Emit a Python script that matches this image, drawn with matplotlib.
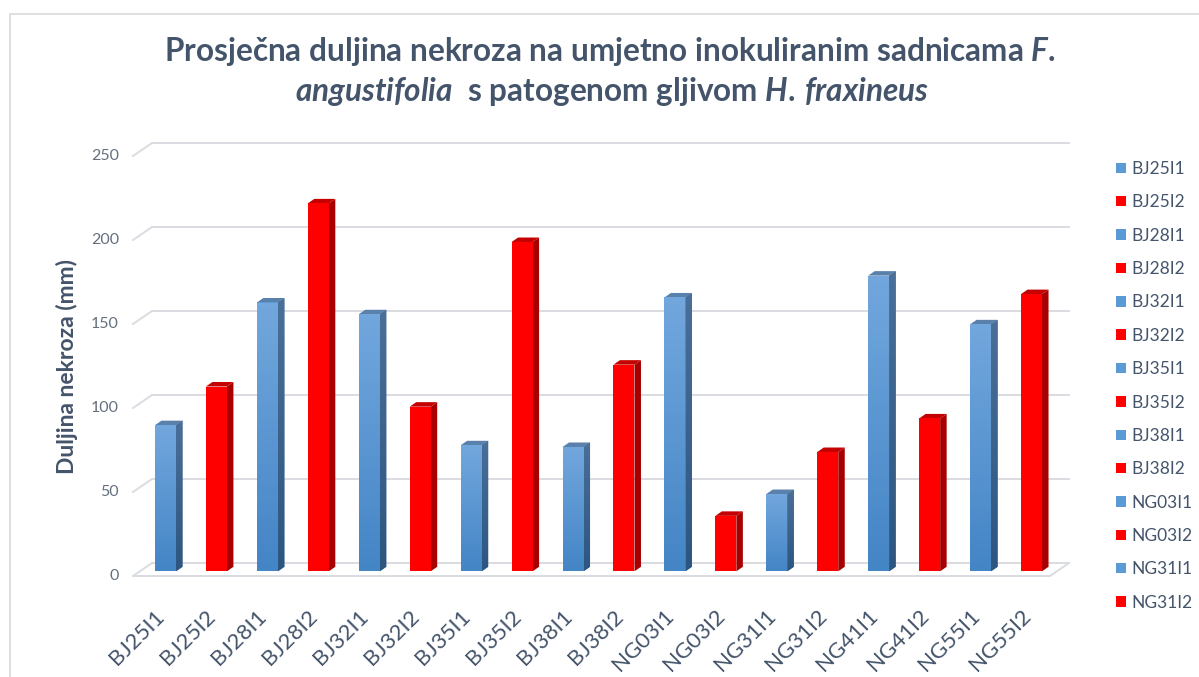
import numpy as np
import matplotlib.pyplot as plt
from matplotlib.patches import Polygon, Rectangle, Patch
from matplotlib.colors import LinearSegmentedColormap

plt.rcParams['font.family'] = ['Lato', 'DejaVu Sans']
plt.rcParams['mathtext.fontset'] = 'custom'
plt.rcParams['mathtext.rm'] = 'Lato:bold'
plt.rcParams['mathtext.it'] = 'Lato:italic:bold'

# prosjecna duljina nekroze po uzorku (mm)
samples = ['BJ25I1', 'BJ25I2', 'BJ28I1', 'BJ28I2', 'BJ32I1', 'BJ32I2',
           'BJ35I1', 'BJ35I2', 'BJ38I1', 'BJ38I2', 'NG03I1', 'NG03I2',
           'NG31I1', 'NG31I2', 'NG41I1', 'NG41I2', 'NG55I1', 'NG55I2']
necrosis_mm = [87, 110, 160, 219, 153, 98, 75, 196, 74, 123,
               163, 33, 46, 71, 176, 91, 147, 165]
y_ticks = [0, 50, 100, 150, 200, 250]
legend_count = 14   # only the first 14 entries fit in the legend

W, H = 1199, 677
fig = plt.figure(figsize=(W / 100, H / 100), dpi=100)
fig.patches.append(Rectangle((10 / W, -0.1), 1.2, 1 - 14 / H + 0.1,
                             transform=fig.transFigure, fill=False,
                             edgecolor='#d9d9d9', lw=1.2))

ax = fig.add_axes([133 / W, 1 - 576 / H, 917 / W, 420 / H])
n = len(samples)
sx = n / 917.0      # data units per pixel
sy = 250 / 420.0

# pseudo 3d: floor depth, bar position in depth, bar thickness
fdx, fdy = 19 * sx, 13 * sy
bdx, bdy = 7 * sx, 4.7 * sy
ddx, ddy = 6.5 * sx, 4.5 * sy
bw = 21 * sx

grid_c = '#d9dce2'
for v in y_ticks:
    ax.plot([fdx, n + fdx], [v + fdy, v + fdy], color=grid_c, lw=1.4, clip_on=False, zorder=1)
    ax.plot([0, fdx], [v, v + fdy], color=grid_c, lw=1.4, clip_on=False, zorder=1)
    ax.text(-14 * sx, v, str(v), ha='right', va='center', fontsize=11.5, color='#65707e')
ax.plot([0, n], [0, 0], color=grid_c, lw=1.4, clip_on=False, zorder=1)
ax.plot([n, n + fdx], [0, fdy], color=grid_c, lw=1.4, clip_on=False, zorder=1)

blue_front = LinearSegmentedColormap.from_list('bf', ['#4485c6', '#72a7dd'])
blue_side = LinearSegmentedColormap.from_list('bs', ['#2c5680', '#4a6f98'])
grad = np.linspace(0, 1, 64).reshape(-1, 1)

for i, (name, v) in enumerate(zip(samples, necrosis_mm)):
    xl = i + 0.5 + bdx - bw / 2
    xr = xl + bw
    y0, y1 = bdy, bdy + v
    blue = name.endswith('1')
    side = Polygon([(xr, y0), (xr, y1), (xr + ddx, y1 + ddy), (xr + ddx, y0 + ddy)],
                   closed=True, lw=0, zorder=3,
                   facecolor='#3d6690' if blue else '#a80000')
    top = Polygon([(xl, y1), (xr, y1), (xr + ddx, y1 + ddy), (xl + ddx, y1 + ddy)],
                  closed=True, lw=0, zorder=3,
                  facecolor='#5a81ac' if blue else '#c40000')
    front = Rectangle((xl, y0), bw, v, lw=0, zorder=3,
                      facecolor='#5b9bd5' if blue else '#ff0000')
    ax.add_patch(side)
    ax.add_patch(top)
    ax.add_patch(front)
    if blue:
        im = ax.imshow(grad, cmap=blue_front, origin='lower', aspect='auto',
                       extent=(xl, xr, y0, y1), zorder=4)
        im.set_clip_path(front)
        ims = ax.imshow(grad, cmap=blue_side, origin='lower', aspect='auto',
                        extent=(xr, xr + ddx, y0, y1 + ddy), zorder=4)
        ims.set_clip_path(side)
    ax.text(i + 0.5 + 3 * sx, -37 * sy, name, rotation=45, ha='right', va='center',
            rotation_mode='anchor', fontsize=16, color='#44546a')

ax.set_xlim(0, n)
ax.set_ylim(0, 250)
ax.axis('off')

ax.text(-66 * sx, 125, 'Duljina nekroza (mm)', rotation=90, ha='center', va='center',
        fontsize=16.5, fontweight='bold', color='#44546a')

fig.text(610 / W, 1 - 52 / H,
         r'Prosječna duljina nekroza na umjetno inokuliranim sadnicama $\mathit{F.}$',
         ha='center', va='center', fontsize=22.7, fontweight='bold', color='#44546a')
fig.text(612 / W, 1 - 91 / H,
         r'$\mathit{angustifolia}$  s patogenom gljivom $\mathit{H.\,fraxineus}$',
         ha='center', va='center', fontsize=22.7, fontweight='bold', color='#44546a')

handles = [Patch(facecolor='#5b9bd5' if s.endswith('1') else '#ff0000', lw=0)
           for s in samples[:legend_count]]
fig.legend(handles, samples[:legend_count], loc='upper left',
           bbox_to_anchor=(1116 / W, 1 - 161 / H), frameon=False, fontsize=12.5,
           handlelength=0.55, handleheight=0.55, handletextpad=0.35,
           labelspacing=1.0, borderpad=0, borderaxespad=0, labelcolor='#44546a')

fig.savefig('out.png', dpi=100)
